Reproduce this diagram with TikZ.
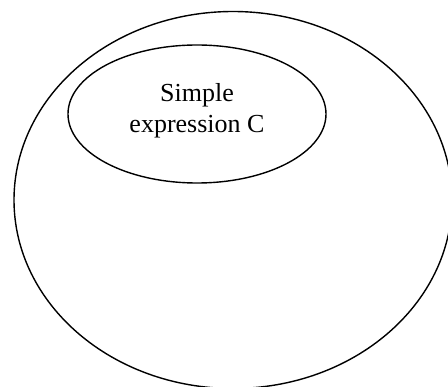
\documentclass[tikz,border=0pt]{standalone}
\usepackage{fontspec}
\setmainfont{Liberation Serif}
\usepackage{tikz}
\usetikzlibrary{shapes.geometric}

\begin{document}
\begin{tikzpicture}[
  x=1pt, y=-1pt,
  font=\fontsize{26}{31}\selectfont,
  blob/.style={draw, ellipse, line width=1.4pt, inner sep=0pt, align=center}
]
\useasboundingbox (0,0) rectangle (448,387);
\node[blob, minimum width=438pt, minimum height=377pt] (whole) at (233,200) {};
\node[blob, minimum width=258pt, minimum height=138pt, text depth=13pt] (expr) at (197,114) {Simple\\expression C};
\end{tikzpicture}
\end{document}
